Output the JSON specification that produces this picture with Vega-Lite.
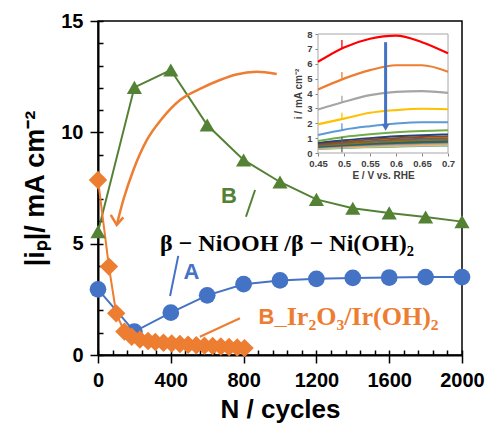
{
  "$schema": "https://vega.github.io/schema/vega-lite/v6.json",
  "width": 364,
  "height": 334,
  "autosize": {"type": "none"},
  "padding": {"left": 98, "top": 21, "right": 26, "bottom": 74},
  "background": "white",
  "config": {
    "view": {"stroke": "#000000", "strokeWidth": 1.5},
    "font": "Liberation Sans",
    "axis": {"grid": false}
  },
  "datasets": {
    "series": [
      {"s": "A", "N": 0, "ip": 2.95},
      {"s": "A", "N": 200, "ip": 1.05},
      {"s": "A", "N": 400, "ip": 1.9},
      {"s": "A", "N": 600, "ip": 2.68},
      {"s": "A", "N": 800, "ip": 3.18},
      {"s": "A", "N": 1000, "ip": 3.35},
      {"s": "A", "N": 1200, "ip": 3.42},
      {"s": "A", "N": 1400, "ip": 3.46},
      {"s": "A", "N": 1600, "ip": 3.48},
      {"s": "A", "N": 1800, "ip": 3.5},
      {"s": "A", "N": 2000, "ip": 3.5},
      {"s": "B", "N": 0, "ip": 5.54},
      {"s": "B", "N": 200, "ip": 12.02},
      {"s": "B", "N": 400, "ip": 12.8},
      {"s": "B", "N": 600, "ip": 10.33},
      {"s": "B", "N": 800, "ip": 8.76},
      {"s": "B", "N": 1000, "ip": 7.77},
      {"s": "B", "N": 1200, "ip": 6.99},
      {"s": "B", "N": 1400, "ip": 6.59},
      {"s": "B", "N": 1600, "ip": 6.38},
      {"s": "B", "N": 1800, "ip": 6.2},
      {"s": "B", "N": 2000, "ip": 5.99},
      {"s": "Ir", "N": 0, "ip": 7.86},
      {"s": "Ir", "N": 60, "ip": 3.97},
      {"s": "Ir", "N": 100, "ip": 1.87},
      {"s": "Ir", "N": 145, "ip": 1.05},
      {"s": "Ir", "N": 185, "ip": 0.82},
      {"s": "Ir", "N": 230, "ip": 0.7},
      {"s": "Ir", "N": 275, "ip": 0.63},
      {"s": "Ir", "N": 315, "ip": 0.58},
      {"s": "Ir", "N": 360, "ip": 0.55},
      {"s": "Ir", "N": 405, "ip": 0.52},
      {"s": "Ir", "N": 450, "ip": 0.49},
      {"s": "Ir", "N": 495, "ip": 0.46},
      {"s": "Ir", "N": 540, "ip": 0.44},
      {"s": "Ir", "N": 585, "ip": 0.42},
      {"s": "Ir", "N": 630, "ip": 0.4},
      {"s": "Ir", "N": 675, "ip": 0.38},
      {"s": "Ir", "N": 720, "ip": 0.36},
      {"s": "Ir", "N": 765, "ip": 0.34},
      {"s": "Ir", "N": 805, "ip": 0.31}
    ],
    "arc": [
      {"N": 103, "ip": 5.84},
      {"N": 139, "ip": 6.96},
      {"N": 194, "ip": 8.3},
      {"N": 268, "ip": 9.65},
      {"N": 350, "ip": 10.6},
      {"N": 451, "ip": 11.45},
      {"N": 560, "ip": 11.95},
      {"N": 670, "ip": 12.35},
      {"N": 760, "ip": 12.6},
      {"N": 872, "ip": 12.72},
      {"N": 982, "ip": 12.62}
    ],
    "arrowhead": [
      {"N": 70, "ip": 6.29},
      {"N": 103, "ip": 5.84},
      {"N": 139, "ip": 6.18}
    ],
    "slashes": [
      {"g": "B", "N": 863, "ip": 7.41, "N2": 813, "ip2": 6.21},
      {"g": "A", "N": 441, "ip": 4.45, "N2": 396, "ip2": 2.65},
      {"g": "Ir", "N": 780, "ip": 1.65, "N2": 560, "ip2": 0.82}
    ],
    "letters": [
      {"g": "B", "N": 720, "ip": 7.16, "t": "B"},
      {"g": "A", "N": 514, "ip": 3.72, "t": "A"}
    ],
    "spectra": [
      {"E": 0.45, "c01": 6.13, "c02": 4.27, "c03": 2.92, "c04": 1.93, "c05": 1.21, "c06": 0.81, "c07": 0.68, "c08": 0.6, "c09": 0.54, "c10": 0.49, "c11": 0.45, "c12": 0.41, "c13": 0.38, "c14": 0.35, "c15": 0.32, "c16": 0.3, "c17": 0.28, "c18": 0.26},
      {"E": 0.5, "c01": 7.1, "c02": 5.0, "c03": 3.44, "c04": 2.31, "c05": 1.57, "c06": 1.08, "c07": 0.86, "c08": 0.76, "c09": 0.68, "c10": 0.61, "c11": 0.56, "c12": 0.51, "c13": 0.47, "c14": 0.43, "c15": 0.4, "c16": 0.37, "c17": 0.34, "c18": 0.32},
      {"E": 0.55, "c01": 7.68, "c02": 5.57, "c03": 3.89, "c04": 2.7, "c05": 1.8, "c06": 1.26, "c07": 1.0, "c08": 0.9, "c09": 0.8, "c10": 0.72, "c11": 0.65, "c12": 0.6, "c13": 0.55, "c14": 0.5, "c15": 0.46, "c16": 0.43, "c17": 0.4, "c18": 0.37},
      {"E": 0.6, "c01": 7.89, "c02": 5.9, "c03": 4.11, "c04": 2.88, "c05": 1.98, "c06": 1.39, "c07": 1.12, "c08": 1.0, "c09": 0.89, "c10": 0.8, "c11": 0.73, "c12": 0.66, "c13": 0.61, "c14": 0.56, "c15": 0.52, "c16": 0.48, "c17": 0.44, "c18": 0.41},
      {"E": 0.65, "c01": 7.45, "c02": 5.9, "c03": 4.16, "c04": 2.97, "c05": 2.07, "c06": 1.48, "c07": 1.2, "c08": 1.08, "c09": 0.96, "c10": 0.86, "c11": 0.78, "c12": 0.71, "c13": 0.66, "c14": 0.6, "c15": 0.56, "c16": 0.52, "c17": 0.48, "c18": 0.45},
      {"E": 0.7, "c01": 6.7, "c02": 5.46, "c03": 4.04, "c04": 2.94, "c05": 2.07, "c06": 1.53, "c07": 1.25, "c08": 1.12, "c09": 1.0, "c10": 0.9, "c11": 0.82, "c12": 0.75, "c13": 0.69, "c14": 0.64, "c15": 0.59, "c16": 0.55, "c17": 0.51, "c18": 0.47}
    ],
    "spikes": [
      {"curve": "c01", "E": 0.496, "I": 7.0, "I2": 7.6},
      {"curve": "c02", "E": 0.496, "I": 5.0, "I2": 5.45},
      {"curve": "c03", "E": 0.496, "I": 3.4, "I2": 3.85},
      {"curve": "c04", "E": 0.496, "I": 2.28, "I2": 2.7},
      {"curve": "c05", "E": 0.496, "I": 1.5, "I2": 2.0},
      {"curve": "c09", "E": 0.496, "I": 0.05, "I2": 1.1}
    ]
  },
  "layer": [
    {
      "layer": [
        {
          "layer": [
            {
              "data": {"name": "series"},
              "mark": {"type": "line", "strokeWidth": 2},
              "encoding": {
                "x": {
                  "field": "N",
                  "type": "quantitative",
                  "scale": {"domain": [0, 2000], "nice": false, "zero": false},
                  "axis": {
                    "orient": "bottom",
                    "title": "N / cycles",
                    "values": [0, 400, 800, 1200, 1600, 2000],
                    "format": "d",
                    "tickSize": 8,
                    "tickColor": "#000000",
                    "tickWidth": 1.5,
                    "domainColor": "#000000",
                    "domainWidth": 2,
                    "labelFont": "Liberation Sans",
                    "labelFontSize": 20,
                    "labelFontWeight": "bold",
                    "labelColor": "#000000",
                    "labelPadding": 7,
                    "labelFlush": false,
                    "labelOverlap": false,
                    "titleFont": "Liberation Sans",
                    "titleFontSize": 26,
                    "titleFontWeight": "bold",
                    "titleColor": "#000000",
                    "titlePadding": 6
                  }
                },
                "y": {
                  "field": "ip",
                  "type": "quantitative",
                  "scale": {"domain": [0, 15], "nice": false, "zero": false},
                  "axis": {
                    "orient": "left",
                    "title": "|iₚ|/ mA cm⁻²",
                    "values": [0, 5, 10, 15],
                    "tickSize": 8,
                    "tickColor": "#000000",
                    "tickWidth": 1.5,
                    "domainColor": "#000000",
                    "domainWidth": 2,
                    "labelFont": "Liberation Sans",
                    "labelFontSize": 20,
                    "labelFontWeight": "bold",
                    "labelColor": "#000000",
                    "labelPadding": 7,
                    "labelFlush": false,
                    "labelOverlap": false,
                    "titleFont": "Liberation Sans",
                    "titleFontSize": 27,
                    "titleFontWeight": "bold",
                    "titleColor": "#000000",
                    "titlePadding": 11
                  }
                },
                "color": {
                  "field": "s",
                  "type": "nominal",
                  "scale": {"domain": ["A", "B", "Ir", "k"], "range": ["#4472C4", "#548235", "#ED7D31", "#000000"]},
                  "legend": null
                }
              }
            },
            {
              "data": {"name": "series"},
              "transform": [{"filter": "datum.s === 'A'"}],
              "mark": {"type": "point", "shape": "circle", "filled": true, "opacity": 1, "size": 280, "color": "#4472C4"},
              "encoding": {
                "x": {"field": "N", "type": "quantitative"},
                "y": {"field": "ip", "type": "quantitative"}
              }
            },
            {
              "data": {"name": "series"},
              "transform": [{"filter": "datum.s === 'B'"}],
              "mark": {"type": "point", "shape": "triangle-up", "filled": true, "opacity": 1, "size": 230, "color": "#548235"},
              "encoding": {
                "x": {"field": "N", "type": "quantitative"},
                "y": {"field": "ip", "type": "quantitative"}
              }
            },
            {
              "data": {"name": "series"},
              "transform": [{"filter": "datum.s === 'Ir'"}],
              "mark": {"type": "point", "shape": "diamond", "filled": true, "opacity": 1, "size": 340, "color": "#ED7D31"},
              "encoding": {
                "x": {"field": "N", "type": "quantitative"},
                "y": {"field": "ip", "type": "quantitative"}
              }
            },
            {
              "data": {"name": "arc"},
              "mark": {"type": "line", "interpolate": "monotone", "strokeWidth": 2.5, "color": "#ED7D31"},
              "encoding": {
                "x": {"field": "N", "type": "quantitative"},
                "y": {"field": "ip", "type": "quantitative"}
              }
            },
            {
              "data": {"name": "slashes"},
              "mark": {"type": "rule", "strokeWidth": 2},
              "encoding": {
                "x": {"field": "N", "type": "quantitative"},
                "y": {"field": "ip", "type": "quantitative"},
                "x2": {"field": "N2"},
                "y2": {"field": "ip2"},
                "color": {"field": "g", "type": "nominal", "legend": null}
              }
            },
            {
              "data": {"name": "letters"},
              "mark": {"type": "text", "font": "Liberation Sans", "fontWeight": "bold", "fontSize": 22, "align": "center", "baseline": "middle"},
              "encoding": {
                "x": {"field": "N", "type": "quantitative"},
                "y": {"field": "ip", "type": "quantitative"},
                "text": {"field": "t"},
                "color": {"field": "g", "type": "nominal", "legend": null}
              }
            },
            {
              "data": {"values": [{"g": "Ir", "N": 1037, "ip": 1.71, "t": "B_"}]},
              "mark": {"type": "text", "font": "Liberation Sans", "fontWeight": "bold", "fontSize": 22, "align": "right", "baseline": "middle"},
              "encoding": {
                "x": {"field": "N", "type": "quantitative"},
                "y": {"field": "ip", "type": "quantitative"},
                "text": {"field": "t"},
                "color": {"field": "g", "type": "nominal", "legend": null}
              }
            },
            {
              "data": {"values": [{"g": "Ir", "N": 1037, "ip": 1.71, "t": "Ir₂O₃/Ir(OH)₂"}]},
              "mark": {"type": "text", "font": "Liberation Serif", "fontWeight": "bold", "fontSize": 26, "align": "left", "baseline": "middle"},
              "encoding": {
                "x": {"field": "N", "type": "quantitative"},
                "y": {"field": "ip", "type": "quantitative"},
                "text": {"field": "t"},
                "color": {"field": "g", "type": "nominal", "legend": null}
              }
            },
            {
              "data": {"values": [{"g": "k", "N": 1038, "ip": 4.98, "t": "β − NiOOH /β − Ni(OH)₂"}]},
              "mark": {"type": "text", "font": "Liberation Serif", "fontWeight": "bold", "fontSize": 24, "align": "center", "baseline": "middle"},
              "encoding": {
                "x": {"field": "N", "type": "quantitative"},
                "y": {"field": "ip", "type": "quantitative"},
                "text": {"field": "t"},
                "color": {"field": "g", "type": "nominal", "legend": null}
              }
            }
          ]
        },
        {
          "data": {"name": "arrowhead"},
          "mark": {"type": "line", "strokeWidth": 2.5, "color": "#ED7D31", "strokeJoin": "miter"},
          "encoding": {
            "x": {
              "field": "N",
              "type": "quantitative",
              "scale": {"domain": [0, 2000], "nice": false, "zero": false},
              "axis": {
                "orient": "top",
                "offset": -334,
                "title": null,
                "values": [0, 80, 160, 240, 320, 400, 480, 560, 640, 720, 800, 880, 960, 1040, 1120, 1200, 1280, 1360, 1440, 1520, 1600, 1680, 1760, 1840, 1920, 2000],
                "labels": false,
                "domain": false,
                "tickSize": 5,
                "tickColor": "#000000",
                "tickWidth": 1.5
              }
            },
            "y": {
              "field": "ip",
              "type": "quantitative",
              "scale": {"domain": [0, 15], "nice": false, "zero": false},
              "axis": {
                "orient": "right",
                "offset": -364,
                "title": null,
                "values": [0, 1, 2, 3, 4, 5, 6, 7, 8, 9, 10, 11, 12, 13, 14, 15],
                "labels": false,
                "domain": false,
                "tickSize": 5,
                "tickColor": "#000000",
                "tickWidth": 1.5
              }
            }
          }
        }
      ],
      "resolve": {
        "scale": {"x": "independent", "y": "independent"},
        "axis": {"x": "independent", "y": "independent"}
      }
    },
    {
      "layer": [
        {
          "data": {"values": [{"E": 0.45, "E2": 0.7, "I": 0, "I2": 8}]},
          "mark": {"type": "rect", "fill": "#FFFFFF", "stroke": "#A6A6A6", "strokeWidth": 1},
          "encoding": {
            "x": {
              "field": "E",
              "type": "quantitative",
              "scale": {"domain": [0.45, 0.7], "range": [220, 350], "nice": false, "zero": false},
              "axis": {
                "orient": "bottom",
                "offset": -202,
                "title": "E / V vs. RHE",
                "values": [0.45, 0.5, 0.55, 0.6, 0.65, 0.7],
                "format": "~g",
                "domain": false,
                "tickSize": 3,
                "tickColor": "#808080",
                "labelFont": "Liberation Sans",
                "labelFontSize": 9.5,
                "labelFontWeight": "bold",
                "labelColor": "#404040",
                "labelPadding": 2,
                "labelFlush": false,
                "labelOverlap": false,
                "titleFont": "Liberation Sans",
                "titleFontSize": 10,
                "titleFontWeight": "bold",
                "titleColor": "#404040",
                "titlePadding": 3
              }
            },
            "x2": {"field": "E2"},
            "y": {
              "field": "I",
              "type": "quantitative",
              "scale": {"domain": [0, 8], "range": [132, 13], "nice": false, "zero": false},
              "axis": {
                "orient": "left",
                "offset": -220,
                "title": "i / mA cm⁻²",
                "values": [0, 1, 2, 3, 4, 5, 6, 7, 8],
                "domain": false,
                "tickSize": 3,
                "tickColor": "#808080",
                "labelFont": "Liberation Sans",
                "labelFontSize": 9.5,
                "labelFontWeight": "bold",
                "labelColor": "#404040",
                "labelPadding": 3,
                "labelOverlap": false,
                "titleFont": "Liberation Sans",
                "titleFontSize": 10,
                "titleFontWeight": "bold",
                "titleColor": "#404040",
                "titlePadding": 3
              }
            },
            "y2": {"field": "I2"}
          }
        },
        {
          "data": {"name": "spectra"},
          "transform": [
            {"fold": ["c18", "c17", "c16", "c15", "c14", "c13", "c12", "c11", "c10", "c09", "c08", "c07", "c06", "c05", "c04", "c03", "c02", "c01"], "as": ["curve", "I"]}
          ],
          "mark": {"type": "line", "interpolate": "monotone"},
          "encoding": {
            "x": {"field": "E", "type": "quantitative"},
            "y": {"field": "I", "type": "quantitative"},
            "color": {
              "field": "curve",
              "type": "nominal",
              "scale": {
                "domain": ["c01", "c02", "c03", "c04", "c05", "c06", "c07", "c08", "c09", "c10", "c11", "c12", "c13", "c14", "c15", "c16", "c17", "c18"],
                "range": ["#FF0000", "#ED7D31", "#A5A5A5", "#FFC000", "#5B9BD5", "#70AD47", "#264478", "#9E480E", "#636363", "#997300", "#255E91", "#43682B", "#698ED0", "#F1975A", "#B7B7B7", "#FFCD33", "#7CAFDD", "#8CC168"]
              },
              "legend": null
            },
            "size": {
              "field": "curve",
              "type": "ordinal",
              "scale": {
                "domain": ["c01", "c02", "c03", "c04", "c05", "c06", "c07", "c08", "c09", "c10", "c11", "c12", "c13", "c14", "c15", "c16", "c17", "c18"],
                "range": [2.2, 1.5, 1.3, 1.3, 1.2, 1.2, 1.2, 1.2, 1.2, 1.2, 1.2, 1.2, 1.2, 1.2, 1.2, 1.2, 1.2, 1.2]
              },
              "legend": null
            }
          }
        },
        {
          "data": {"name": "spikes"},
          "mark": {"type": "rule", "strokeWidth": 1.3},
          "encoding": {
            "x": {"field": "E", "type": "quantitative"},
            "y": {"field": "I", "type": "quantitative"},
            "y2": {"field": "I2"},
            "color": {"field": "curve", "type": "nominal", "legend": null}
          }
        },
        {
          "data": {"values": [{"E": 0.58, "I": 7.45, "I2": 1.8}]},
          "mark": {"type": "rule", "strokeWidth": 3, "color": "#4472C4"},
          "encoding": {
            "x": {"field": "E", "type": "quantitative"},
            "y": {"field": "I", "type": "quantitative"},
            "y2": {"field": "I2"}
          }
        },
        {
          "data": {"values": [{"E": 0.58, "I": 1.72}]},
          "mark": {"type": "point", "shape": "triangle-down", "filled": true, "opacity": 1, "size": 60, "color": "#4472C4"},
          "encoding": {
            "x": {"field": "E", "type": "quantitative"},
            "y": {"field": "I", "type": "quantitative"}
          }
        }
      ]
    }
  ],
  "resolve": {
    "scale": {"x": "independent", "y": "independent", "color": "independent", "size": "independent"},
    "axis": {"x": "independent", "y": "independent"}
  }
}
